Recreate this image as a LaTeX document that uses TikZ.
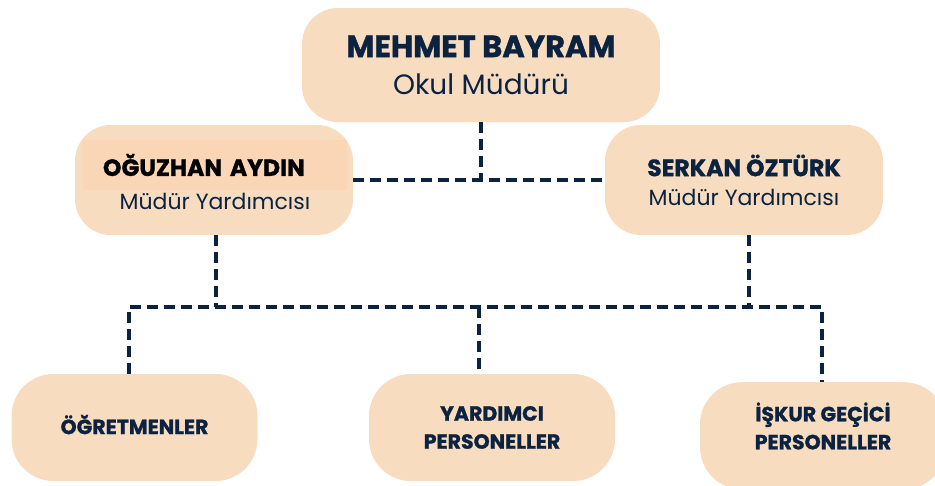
\documentclass[tikz,border=0pt]{standalone}
\usepackage{fontspec}
\setmainfont{Poppins}[BoldFeatures={FakeBold=1.2}]
\usetikzlibrary{positioning,calc}
\definecolor{peach}{RGB}{247,220,192}
\definecolor{peachhi}{RGB}{250,214,182}
\definecolor{navy}{RGB}{11,35,64}
\tikzstyle{box}=[fill=peach, rounded corners=36pt, inner sep=0pt, text=navy, align=center]
\tikzstyle{link}=[navy, line width=3.5pt, dash pattern=on 11pt off 6pt]
\tikzstyle{nametext}=[font=\fontsize{23.5}{28}\selectfont\bfseries]
\tikzstyle{subtext}=[text=navy, font=\fontsize{22}{28}\selectfont]
\tikzstyle{staff}=[box, rounded corners=42pt, minimum width=246pt, minimum height=107pt,
  font=\fontsize{20.5}{28}\selectfont\bfseries]

\begin{document}
\begin{tikzpicture}[x=1pt,y=-1pt]
\useasboundingbox (0,0) rectangle (935,485);
\clip (0,0) rectangle (935,485);

\node (mb) [box, minimum width=358pt, minimum height=114pt,
  font=\fontsize{28}{37}\selectfont] at (481,65)
  {\fontsize{30.5}{37}\selectfont\bfseries MEHMET BAYRAM\\ Okul Müdürü};

\node (vl) [box, minimum width=278pt, minimum height=110pt] at (214,180) {};
\node (vln) [nametext, fill=peachhi, text=black, inner xsep=20pt, text width=224pt,
  minimum height=50pt, align=left] at (215,165) {OĞUZHAN AYDIN};
\node (vls) [subtext] at (215,201) {Müdür Yardımcısı};

\node (vr) [box, minimum width=278pt, minimum height=110pt,
  font=\fontsize{22}{29}\selectfont] at (744,180)
  {\fontsize{23.5}{29}\selectfont\bfseries SERKAN ÖZTÜRK\\ Müdür Yardımcısı};

\node (s1) [staff] at (134.5,427.5) {\raisebox{6pt}{ÖĞRETMENLER}};
\node (s2) [staff] at (492,427.5) {YARDIMCI\\ PERSONELLER};
\node (s3) [staff, anchor=north] at (823,382) {};
\node (s3t) [staff, fill=none, minimum height=0pt] at (823,426) {İŞKUR GEÇİCİ\\ PERSONELLER};

\draw[link] (mb.south) -- (mb.south |- vl.east);
\draw[link] (vl.east) -- (vr.west);

\coordinate (b1) at (129,307);
\coordinate (b2) at (479,307);
\coordinate (b3) at (822,307);
\draw[link] ([xshift=2pt]vl.south) -- ([xshift=2pt]vl.south |- b1);
\draw[link] ([xshift=5pt]vr.south) -- ([xshift=5pt]vr.south |- b1);
\draw[link] (b1 |- s1.north) -- (b1) -- (b3) -- (b3 |- s3.north);
\draw[link] (b2) -- (b2 |- s2.north);

\end{tikzpicture}
\end{document}
